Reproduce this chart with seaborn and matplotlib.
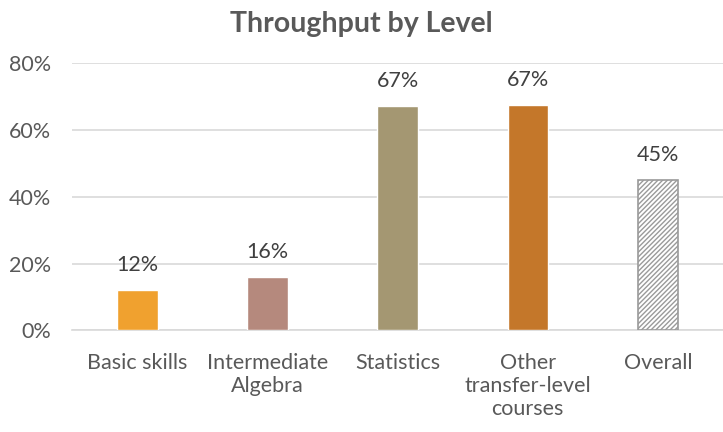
import matplotlib
matplotlib.use('Agg')
import matplotlib.pyplot as plt
import seaborn as sns
import pandas as pd

# chart data
levels = ['Basic skills', 'Intermediate\nAlgebra', 'Statistics',
          'Other\ntransfer-level\ncourses', 'Overall']
throughput = [12.0, 16.1, 67.0, 67.4, 45.0]
labels = ['12%', '16%', '67%', '67%', '45%']
colors = ['#F0A12F', '#B5897D', '#A49772', '#C4772A', '#FFFFFF']

df = pd.DataFrame({'level': levels, 'throughput': throughput})

sns.set_style('white')
plt.rcParams['font.family'] = ['Lato', 'DejaVu Sans']
plt.rcParams['hatch.color'] = '#9A9A9A'
plt.rcParams['hatch.linewidth'] = 1.0

fig = plt.figure(figsize=(7.23, 4.32), dpi=100)
ax = fig.add_axes([0.1, 0.235, 0.9, 0.62])

sns.barplot(data=df, x='level', y='throughput', hue='level', palette=colors,
            legend=False, width=0.31, saturation=1, ax=ax, zorder=3)

# hatched "Overall" bar
overall = ax.patches[4]
overall.set_hatch('///////')
overall.set_edgecolor('#9A9A9A')
overall.set_linewidth(1.2)

for p, lab in zip(ax.patches, labels):
    ax.text(p.get_x() + p.get_width() / 2, p.get_height() + 4.5, lab,
            ha='center', va='bottom', fontsize=15.5, color='#404040')

ax.set_ylim(0, 80)
ax.set_yticks([0, 20, 40, 60, 80])
ax.set_yticklabels(['0%', '20%', '40%', '60%', '80%'])
ax.yaxis.grid(True, color='#D9D9D9', linewidth=1.2, zorder=0)
ax.set_axisbelow(True)
for s in ['top', 'right', 'left']:
    ax.spines[s].set_visible(False)
ax.spines['bottom'].set_color('#D9D9D9')
ax.spines['bottom'].set_linewidth(1.2)
ax.tick_params(axis='both', length=0, labelsize=15.5, labelcolor='#595959')
ax.tick_params(axis='x', pad=16)
ax.tick_params(axis='y', pad=15)
ax.set_xlabel('')
ax.set_ylabel('')
ax.set_xlim(-0.5, 4.5)

fig.suptitle('Throughput by Level', fontsize=20.5, fontweight='bold',
             color='#595959', y=0.975)

fig.savefig('out.png', dpi=100)
